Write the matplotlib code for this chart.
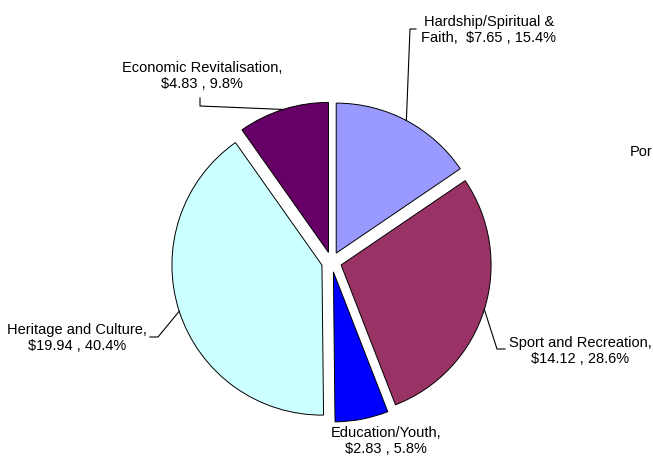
import numpy as np
import matplotlib
matplotlib.use('Agg')
import matplotlib.pyplot as plt

# data
categories = ['Hardship/Spiritual &\nFaith', 'Sport and Recreation', 'Education/Youth',
              'Heritage and Culture', 'Economic Revitalisation']
amounts = [7.65, 14.12, 2.83, 19.94, 4.83]
percentages = [15.4, 28.6, 5.8, 40.4, 9.8]
colors = ['#9999FF', '#993366', '#0000FF', '#CCFFFF', '#660066']

plt.rcParams['font.family'] = ['Liberation Sans', 'DejaVu Sans']

PX = 150.0          # pixels per unit radius
CX, CY = 331.5, 262  # pie centre in image pixels
W, H = 653, 458


def px(x, y):
	'''image pixel -> data coordinates'''
	return (x - CX) / PX, (CY - y) / PX


def make_label(name, amt, pct):
	if '\n' in name:
		return f'{name},  ${amt:.2f} , {pct:.1f}%'
	return f'{name},\n${amt:.2f} , {pct:.1f}%'


fig = plt.figure(figsize=(W / 100, H / 100), dpi=100)
ax = fig.add_axes([0, 0, 1, 1])

explode = [0.067] * len(amounts)
wedges, _ = ax.pie(amounts, colors=colors, explode=explode, startangle=90, counterclock=False,
                   radius=1.0, wedgeprops=dict(edgecolor='black', linewidth=0.7))

ax.set_xlim(-CX / PX, (W - CX) / PX)
ax.set_ylim((CY - H) / PX, CY / PX)
ax.set_aspect('equal')
ax.axis('off')

# label layout: text centre (px), elbow (px), stub end (px); None = no leader
layout = [
	((489, 30), (410, 29), (416, 29)),
	((580, 351), (497, 349), (505, 349)),
	((386, 441), None, None),
	((77, 338), (158, 337), (150, 337)),
	((202, 76), (200, 106), (200, 98)),
]

for w, name, amt, pct, (tpos, elbow, stub) in zip(wedges, categories, amounts, percentages, layout):
	mid = np.deg2rad((w.theta1 + w.theta2) / 2)
	cx, cy = w.center
	anchor = (cx + w.r * np.cos(mid), cy + w.r * np.sin(mid))
	tx, ty = px(*tpos)
	ax.text(tx, ty, make_label(name, amt, pct), ha='center', va='center',
	        fontsize=10.5, linespacing=1.25, color='black')
	if elbow is not None:
		ex, ey = px(*elbow)
		sx, sy = px(*stub)
		ax.plot([anchor[0], ex, sx], [anchor[1], ey, sy], color='black', linewidth=0.8,
		        clip_on=False)

# cut-off text at the right edge of the original image
ax.text(*px(630, 152), 'Por', ha='left', va='center', fontsize=10.5)

fig.savefig('out.png', dpi=100)
